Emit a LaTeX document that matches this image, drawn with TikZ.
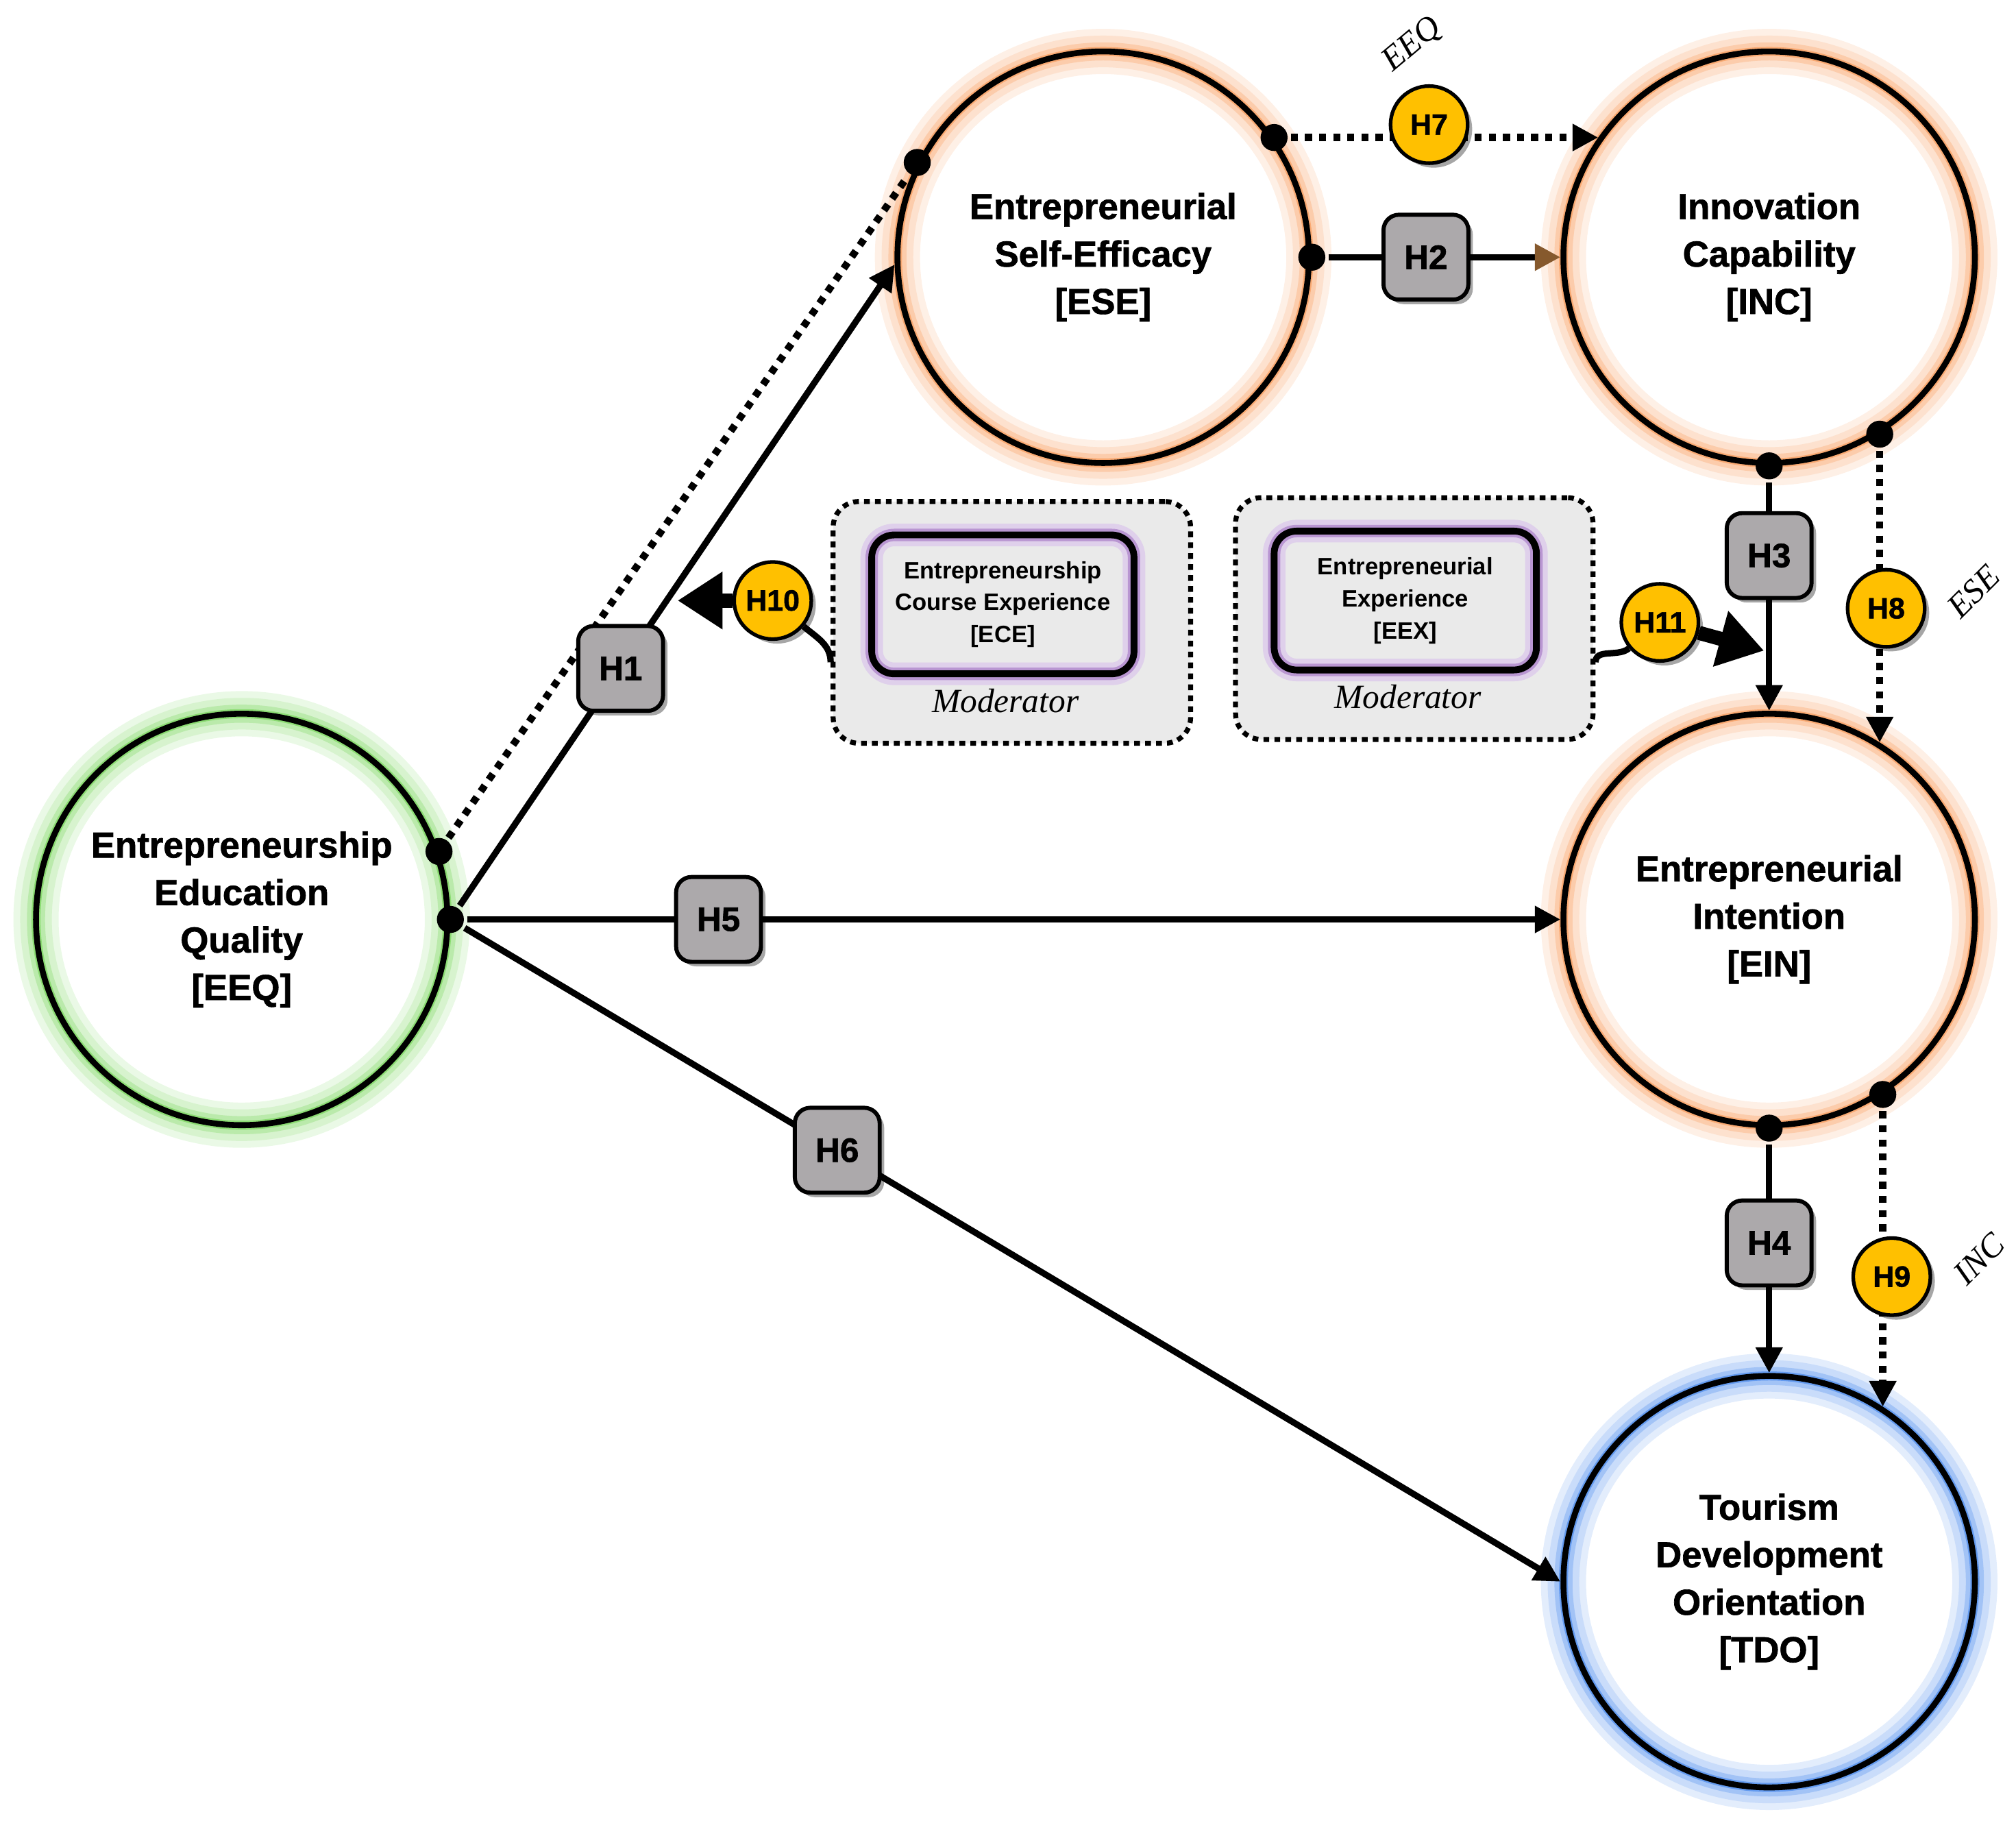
\documentclass[tikz,border=0pt]{standalone}
\usepackage{fontspec}
\setmainfont{Liberation Sans}
\newfontfamily\itserif{Liberation Serif}
\newfontfamily\heavy[FakeBold=1.3]{Liberation Sans Bold}
\usetikzlibrary{arrows.meta,positioning,shadows}

\definecolor{hgray}{RGB}{172,169,171}
\definecolor{hyellow}{RGB}{255,192,0}
\definecolor{glowor}{RGB}{250,170,115}
\definecolor{glowgr}{RGB}{140,220,115}
\definecolor{glowbl}{RGB}{100,155,240}
\definecolor{glowpu}{RGB}{185,150,210}
\definecolor{modfill}{RGB}{234,234,234}

\begin{document}
\begin{tikzpicture}[x=0.2mm, y=-0.2mm, line width=2.8pt, >={Triangle[length=4mm, width=4mm]}, every node/.style={font=\heavy\fontsize{16}{21}\selectfont}, glow/.style={preaction={draw=#1!18, line width=20pt}, preaction={draw=#1!35, line width=14pt}, preaction={draw=#1!60, line width=8pt}, preaction={draw=#1, line width=4pt}}, lv/.style={draw, circle, minimum size=64mm, inner sep=0pt, align=center, line width=2.6pt}, hb/.style={draw, solid, fill=hgray, rounded corners=2.4mm, minimum size=13.2mm, inner sep=0pt, line width=1.8pt, drop shadow={shadow xshift=0.7mm, shadow yshift=-0.7mm, fill=black, opacity=0.35}, font=\heavy\fontsize{15}{15}\selectfont}, hy/.style={draw, solid, fill=hyellow, circle, minimum size=12mm, inner sep=0pt, line width=1.6pt, drop shadow={shadow xshift=0.7mm, shadow yshift=-0.7mm, fill=black, opacity=0.35}, font=\heavy\fontsize{13}{13}\selectfont}, dot/.style={circle, fill, minimum size=4.2mm, inner sep=0pt}, dotl/.style={line width=3.2pt, dash pattern=on 1.1mm off 1.1mm}, tag/.style={font=\itserif\itshape\fontsize{15}{15}\selectfont}, big/.style={line width=2.2mm, -{Triangle[length=7mm, width=8.5mm]}}, modbox/.style={draw, fill=modfill, rounded corners=4mm, minimum width=55.6mm, minimum height=37.6mm, line width=2.2pt, dash pattern=on 0.9mm off 0.8mm}, modin/.style={preaction={fill=modfill}, preaction={draw=glowpu!45, line width=10pt}, preaction={draw=glowpu, line width=5.5pt}, draw, rounded corners=3.5mm, minimum width=40.8mm, minimum height=21.6mm, line width=3pt, align=center, font=\bfseries\fontsize{10.5}{14.2}\selectfont}, modtag/.style={font=\itserif\itshape\fontsize{15}{15}\selectfont}]
	\useasboundingbox (0,0) rectangle (1568,1426);
	% latent variables
	\node[lv, glow=glowgr] (eeq) at (188,715) {Entrepreneurship\\Education\\Quality\\{[EEQ]}};
	\node[lv, glow=glowor] (ese) at (858,200) {Entrepreneurial\\Self-Efficacy\\{[ESE]}};
	\node[lv, glow=glowor] (inc) at (1376,200) {Innovation\\Capability\\{[INC]}};
	\node[lv, glow=glowor] (ein) at (1376,715) {Entrepreneurial\\Intention\\{[EIN]}};
	\node[lv, glow=glowbl] (tdo) at (1376,1230) {Tourism\\Development\\Orientation\\{[TDO]}};
	% moderators
	\foreach \m/\x/\y/\t in {ece/787/484/{Entrepreneurship\\Course Experience\\{[ECE]}}, eex/1100/481/{Entrepreneurial\\Experience\\{[EEX]}}} {
		\node[modbox] (\m b) at (\x,\y) {};
		\node[modin] (\m) at ([xshift=-1.4mm, yshift=2.8mm]\m b.center) {\t};
		\node[modtag] (\m t) at ([xshift=-1mm, yshift=-12.2mm]\m b.center) {Moderator};
	}
	% start dots
	\node[dot] (j0) at (eeq.east) {};
	\node[dot] (j1) at (eeq.19) {};
	\node[dot] (j2) at (ese.153) {};
	\node[dot] (j3) at (ese.east) {};
	\node[dot] (j4) at (ese.35) {};
	\node[dot] (j5) at (inc.south) {};
	\node[dot] (j6) at (inc.-58) {};
	\node[dot] (j7) at (ein.south) {};
	\node[dot] (j8) at (ein.-57) {};
	% direct paths
	\draw[dotl] (j1) -- (j2);
	\draw[->] (j0) -- (ese.182) node[hb, pos=0.37] (h1) {H1};
	\draw[->] (j0) -- (ein.west) node[hb, pos=0.23] (h5) {H5};
	\draw[->] (j0) -- (tdo.west) node[hb, pos=0.34] (h6) {H6};
	\draw[-{Triangle[length=4mm, width=4mm, color=brown!70!black]}] (j3) -- (inc.west) node[hb, pos=0.42] (h2) {H2};
	\draw[->] (j5) -- (ein.north) node[hb, pos=0.32] (h3) {H3};
	\draw[->] (j7) -- (tdo.north) node[hb, pos=0.43] (h4) {H4};
	% mediation
	\draw[dotl, ->] (j4) -- (inc.145) node[hy, pos=0.45, yshift=2mm] (h7) {H7};
	\draw[dotl, ->] (j6) -- (ein.58) node[hy, pos=0.54, xshift=1mm] (h8) {H8};
	\draw[dotl, ->] (j8) -- (tdo.57) node[hy, pos=0.56, xshift=1.4mm] (h9) {H9};
	\node[tag, rotate=40] (t7) at ([xshift=-2.6mm, yshift=12.4mm]h7.center) {EEQ};
	\node[tag, rotate=45] (t8) at ([xshift=13.6mm, yshift=2.6mm]h8.center) {ESE};
	\node[tag, rotate=45] (t9) at ([xshift=13.6mm, yshift=2.8mm]h9.center) {INC};
	% moderation
	\node[hy] (h10) at (601,467) {H10};
	\coordinate (a10) at (527,467);
	\coordinate (c10) at ([yshift=-6.2mm]eceb.west);
	\draw[big] (h10) -- (a10);
	\draw (c10) to[out=90, in=-40] (h10.-40);
	\node[hy] (h11) at (1291,484) {H11};
	\coordinate (a11) at (1372,506);
	\coordinate (c11) at ([yshift=-6.8mm]eexb.east);
	\draw (c11) to[out=90, in=220] (h11.220);
	\draw[big] (h11.-15) -- (a11);
\end{tikzpicture}
\end{document}
